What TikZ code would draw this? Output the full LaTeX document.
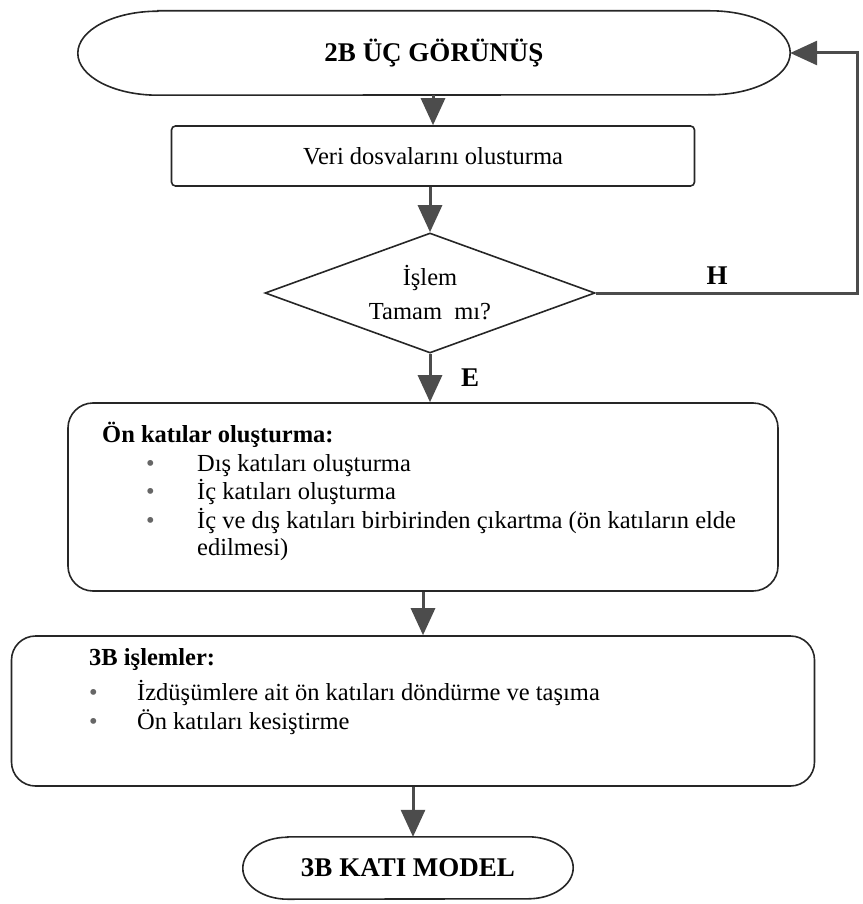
\documentclass[tikz,border=0pt]{standalone}
\usepackage{fontspec}
\setmainfont{Liberation Serif}
\usetikzlibrary{arrows.meta, positioning, shapes.geometric}

\newcommand{\mydot}{\textcolor{black!60}{\textbullet}}

\begin{document}
\begin{tikzpicture}[x=1pt, y=-1pt, >={Triangle[length=27pt, width=24pt]},
                    font=\fontsize{24.5}{27}\selectfont,
                    myline/.style = {draw=black!85, line width=1.6pt},
                    myterm/.style = {font=\fontsize{27}{30}\selectfont\bfseries},
                    mybox/.style = {myline, rounded corners=#1},
                    mydiamond/.style = {myline, diamond, aspect=2.75, inner sep=0pt, align=center},
                    mylabel/.style = {font=\fontsize{27}{30}\selectfont\bfseries},
                    myarrow/.style = {->, draw=black!70, line width=3pt}
                   ]

    \useasboundingbox (0,0) rectangle (862,904);

    % top of the chart
    \node[myterm, minimum width=712pt, minimum height=84pt] (start) at (434,53) {2B ÜÇ GÖRÜNÜŞ};
    \draw[myline] ([xshift=80pt]start.north west) -- ([xshift=-80pt]start.north east)
        arc (90:-90:80pt and 42pt) -- ([xshift=80pt]start.south west)
        arc (270:90:80pt and 42pt) -- cycle;
    \node[mybox=4pt, minimum width=523pt, minimum height=60pt] (data) at (433,156) {Veri dosvalarını olusturma};
    \node[mydiamond, minimum width=330pt, minimum height=120pt] (check) at (430,293) {İşlem\\[7pt]Tamam\ \ mı?};

    % big boxes
    \node[mybox=25pt, minimum width=710pt, minimum height=188pt] (layers) at (423,497) {};
    \node[anchor=north west, inner sep=0pt] (layerstxt) at (102,422) {%
        \begin{tabular}{@{}p{44pt}@{}p{51pt}@{}p{580pt}@{}}
        \multicolumn{3}{@{}l}{\bfseries Ön katılar oluşturma:}\\[2pt]
        & \mydot & Dış katıları oluşturma\\
        & \mydot & İç katıları oluşturma\\
        & \mydot & İç ve dış katıları birbirinden çıkartma (ön katıların elde\newline edilmesi)
        \end{tabular}};

    \node[mybox=24pt, minimum width=803pt, minimum height=150pt] (ops) at (413,711) {};
    \node[anchor=north west, inner sep=0pt] (opstxt) at (89,646) {%
        \begin{tabular}{@{}p{0pt}@{}p{48pt}@{}p{680pt}@{}}
        \multicolumn{3}{@{}l}{\bfseries 3B işlemler:}\\[7pt]
        & \mydot & İzdüşümlere ait ön katıları döndürme ve taşıma\\[1pt]
        & \mydot & Ön katıları kesiştirme
        \end{tabular}};

    \node[myterm, minimum width=330pt, minimum height=62pt] (model) at (408,868) {3B KATI MODEL};
    \draw[myline] ([xshift=45pt]model.north west) -- ([xshift=-45pt]model.north east)
        arc (90:-90:45pt and 31pt) -- ([xshift=45pt]model.south west)
        arc (270:90:45pt and 31pt) -- cycle;

    % labels
    \node[mylabel] (hlabel) at (717,276) {H};
    \node[mylabel] (elabel) at (470,378) {E};

    % connectors
    \coordinate (back) at (857,293);
    \draw[myarrow] (start.south -| data.north) -- (data.north);
    \draw[myarrow] (data.south -| check.north) -- (check.north);
    \draw[myarrow] (check.south) -- (check.south |- layers.north);
    \draw[myarrow] (check.east) -- (back) |- (start.east);
    \draw[myarrow] (layers.south) -- (layers.south |- ops.north);
    \draw[myarrow] (ops.south) -- (ops.south |- model.north);

\end{tikzpicture}
\end{document}
